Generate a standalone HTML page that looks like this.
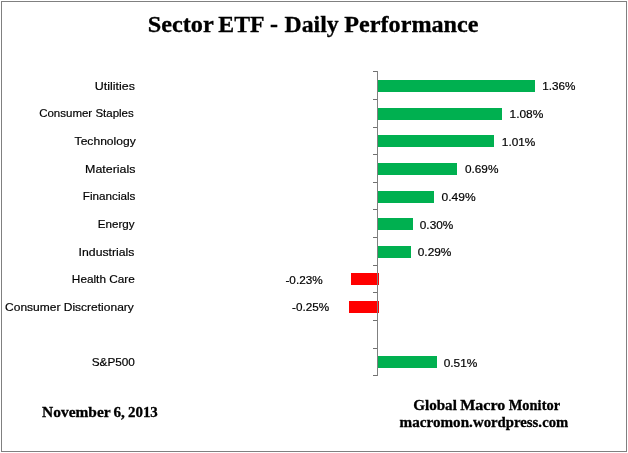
<!DOCTYPE html>
<html lang="en"><head><meta charset="utf-8"><title>Sector ETF - Daily Performance</title>
<style>
html,body{margin:0;padding:0;background:#fff;}
body{width:628px;height:453px;overflow:hidden;}
svg{display:block;}
.t{font-family:"Liberation Serif",serif;font-weight:bold;fill:#000;stroke:#000;stroke-width:0.3px;}
.l{font-family:"Liberation Sans",sans-serif;font-size:11.2px;fill:#000;stroke:#000;stroke-width:0.18px;}
</style></head><body>
<svg width="628" height="453" viewBox="0 0 628 453">
<rect x="0" y="0" width="628" height="453" fill="#fff"/>
<rect x="1.5" y="1.5" width="625" height="450" fill="none" stroke="#808080" stroke-width="1"/>

<text class="t" y="32.4" font-size="24"><tspan class="m" x="147.66" textLength="65.66" lengthAdjust="spacingAndGlyphs">Sector</tspan> <tspan class="m" x="218.37" textLength="45.38" lengthAdjust="spacingAndGlyphs">ETF</tspan> <tspan class="m" x="270.06" textLength="7.99" lengthAdjust="spacingAndGlyphs">-</tspan> <tspan class="m" x="284.55" textLength="54.10" lengthAdjust="spacingAndGlyphs">Daily</tspan> <tspan class="m" x="344.34" textLength="134.15" lengthAdjust="spacingAndGlyphs">Performance</tspan></text>
<rect x="378" y="80" width="157" height="12" fill="#00b050"/>
<rect x="378" y="108" width="124" height="12" fill="#00b050"/>
<rect x="378" y="135" width="116" height="12" fill="#00b050"/>
<rect x="378" y="163" width="79" height="12" fill="#00b050"/>
<rect x="378" y="191" width="56" height="12" fill="#00b050"/>
<rect x="378" y="218" width="35" height="12" fill="#00b050"/>
<rect x="378" y="246" width="33" height="12" fill="#00b050"/>
<rect x="351" y="273" width="28" height="12" fill="#ff0000"/>
<rect x="349" y="301" width="30" height="12" fill="#ff0000"/>
<rect x="378" y="356" width="59" height="12" fill="#00b050"/>
<path d="M377.5 71V376" stroke="#808080" stroke-width="1" fill="none"/>
<path d="M373 71.5H377M373 99.5H377M373 127.5H377M373 154.5H377M373 182.5H377M373 209.5H377M373 237.5H377M373 265.5H377M373 292.5H377M373 320.5H377M373 348.5H377M373 375.5H377" stroke="#707070" stroke-width="1" fill="none"/>
<text class="l m" y="89.8" x="94.84" textLength="40.07" lengthAdjust="spacingAndGlyphs">Utilities</text>
<text class="l m" y="117.2" x="39.17" textLength="94.60" lengthAdjust="spacingAndGlyphs">Consumer Staples</text>
<text class="l m" y="144.8" x="74.62" textLength="61.13" lengthAdjust="spacingAndGlyphs">Technology</text>
<text class="l m" y="172.8" x="85.07" textLength="50.41" lengthAdjust="spacingAndGlyphs">Materials</text>
<text class="l m" y="199.9" x="82.85" textLength="52.60" lengthAdjust="spacingAndGlyphs">Financials</text>
<text class="l m" y="227.8" x="97.83" textLength="36.81" lengthAdjust="spacingAndGlyphs">Energy</text>
<text class="l m" y="255.6" x="78.64" textLength="55.77" lengthAdjust="spacingAndGlyphs">Industrials</text>
<text class="l m" y="282.8" x="71.89" textLength="62.89" lengthAdjust="spacingAndGlyphs">Health Care</text>
<text class="l m" y="310.8" x="5.04" textLength="128.80" lengthAdjust="spacingAndGlyphs">Consumer Discretionary</text>
<text class="l m" y="366.0" x="91.68" textLength="43.22" lengthAdjust="spacingAndGlyphs">S&amp;P500</text>
<text class="l m" y="90.0" x="542.15" textLength="33.23" lengthAdjust="spacingAndGlyphs">1.36%</text>
<text class="l m" y="118.0" x="509.50" textLength="33.85" lengthAdjust="spacingAndGlyphs">1.08%</text>
<text class="l m" y="145.8" x="501.84" textLength="33.57" lengthAdjust="spacingAndGlyphs">1.01%</text>
<text class="l m" y="173.0" x="464.94" textLength="33.49" lengthAdjust="spacingAndGlyphs">0.69%</text>
<text class="l m" y="200.9" x="441.54" textLength="34.11" lengthAdjust="spacingAndGlyphs">0.49%</text>
<text class="l m" y="228.5" x="419.81" textLength="33.46" lengthAdjust="spacingAndGlyphs">0.30%</text>
<text class="l m" y="256.0" x="417.74" textLength="33.65" lengthAdjust="spacingAndGlyphs">0.29%</text>
<text class="l m" y="283.8" x="285.45" textLength="37.21" lengthAdjust="spacingAndGlyphs">-0.23%</text>
<text class="l m" y="311.2" x="292.06" textLength="37.10" lengthAdjust="spacingAndGlyphs">-0.25%</text>
<text class="l m" y="366.8" x="443.71" textLength="33.69" lengthAdjust="spacingAndGlyphs">0.51%</text>
<text class="t" y="416.5" font-size="14.67"><tspan class="m" x="42.09" textLength="68.28" lengthAdjust="spacingAndGlyphs">November</tspan> <tspan class="m" x="113.49" textLength="11.35" lengthAdjust="spacingAndGlyphs">6,</tspan> <tspan class="m" x="127.94" textLength="29.90" lengthAdjust="spacingAndGlyphs">2013</tspan></text>
<text class="t" y="409.8" font-size="14.67"><tspan class="m" x="413.20" textLength="43.66" lengthAdjust="spacingAndGlyphs">Global</tspan> <tspan class="m" x="460.24" textLength="45.04" lengthAdjust="spacingAndGlyphs">Macro</tspan> <tspan class="m" x="508.73" textLength="51.37" lengthAdjust="spacingAndGlyphs">Monitor</tspan></text>
<text class="t" y="426.8" font-size="14.67"><tspan class="m" x="399.58" textLength="73.28" lengthAdjust="spacingAndGlyphs">macromon.</tspan><tspan class="m" x="472.98" textLength="69.10" lengthAdjust="spacingAndGlyphs">wordpress.</tspan><tspan class="m" x="542.28" textLength="26.03" lengthAdjust="spacingAndGlyphs">com</tspan></text>
</svg></body></html>
